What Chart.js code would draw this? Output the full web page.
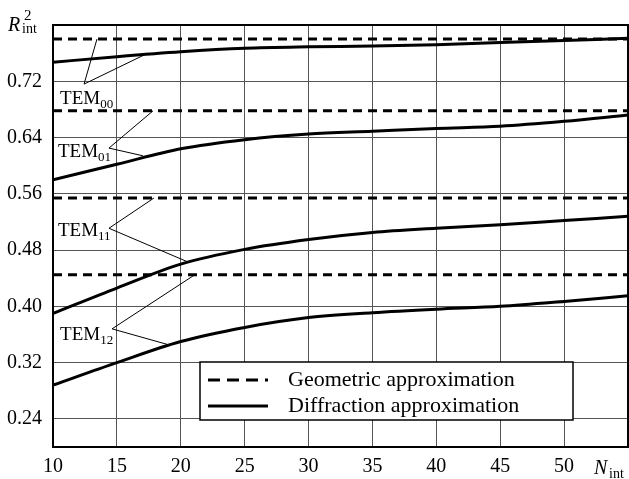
<!DOCTYPE html>
<html>
<head>
<meta charset="utf-8">
<script src="https://cdn.jsdelivr.net/npm/chart.js@4.4.0/dist/chart.umd.min.js"></script>
<style>
  html, body { margin: 0; padding: 0; background: #fff; }
  #wrap { width: 629px; height: 479px; }
</style>
</head>
<body>
<div id="wrap"><canvas id="chart"></canvas></div>
<script>
// x values (number of iterations) and diffraction curves
const nInt = [10, 15, 20, 25, 30, 35, 40, 45, 50, 55];
const diffTEM00 = [0.747, 0.755, 0.762, 0.767, 0.769, 0.770, 0.772, 0.775, 0.778, 0.781];
const diffTEM01 = [0.580, 0.602, 0.624, 0.637, 0.645, 0.649, 0.653, 0.656, 0.663, 0.672];
const diffTEM11 = [0.390, 0.426, 0.460, 0.481, 0.495, 0.505, 0.511, 0.516, 0.522, 0.528];
const diffTEM12 = [0.288, 0.320, 0.350, 0.370, 0.384, 0.391, 0.396, 0.400, 0.407, 0.415];

// geometric approximation (flat levels)
const nGeo = [10, 55];
const geoTEM00 = [0.780, 0.780];
const geoTEM01 = [0.678, 0.678];
const geoTEM11 = [0.554, 0.554];
const geoTEM12 = [0.445, 0.445];

// tick labels
const xTicks = [10, 15, 20, 25, 30, 35, 40, 45, 50, 55];
const yTicks = [0.24, 0.32, 0.40, 0.48, 0.56, 0.64, 0.72, 0.80];

// mode labels and leader lines (data coords)
const modeSubs = ['00', '01', '11', '12'];
const labelN = [10.55, 10.39, 10.39, 10.55];
const labelR = [0.688, 0.612, 0.500, 0.352];
const vertexN = [12.43, 14.38, 14.38, 14.62];
const vertexR = [0.716, 0.625, 0.511, 0.368];
const geoHitN = [13.44, 17.83, 17.90, 21.11];
const geoHitR = [0.780, 0.678, 0.554, 0.445];
const diffHitN = [17.43, 17.04, 20.57, 18.92];
const diffHitR = [0.760, 0.614, 0.463, 0.346];

const legendText = ['Geometric approximation', 'Diffraction approximation'];

const SERIF = "'Liberation Serif', 'Times New Roman', serif";

function pts(xs, ys) {
  return xs.map((x, i) => ({ x: x, y: ys[i] }));
}

function geoSet(vals) {
  return {
    data: pts(nGeo, vals),
    borderColor: '#000',
    borderWidth: 3,
    borderDash: [9, 6],
    pointRadius: 0,
    fill: false
  };
}
function diffSet(vals) {
  return {
    data: pts(nInt, vals),
    borderColor: '#000',
    borderWidth: 3,
    pointRadius: 0,
    cubicInterpolationMode: 'monotone',
    fill: false
  };
}

// frame, labels, leaders, legend box, axis titles
const extras = {
  id: 'extras',
  afterDatasetsDraw(chart) {
    const ctx = chart.ctx;
    const xs = chart.scales.x, ys = chart.scales.y;
    const a = chart.chartArea;
    ctx.save();

    // frame
    ctx.strokeStyle = '#000';
    ctx.lineWidth = 2;
    ctx.strokeRect(a.left, a.top, a.right - a.left, a.bottom - a.top);

    // leader lines
    ctx.lineWidth = 1;
    for (let i = 0; i < modeSubs.length; i++) {
      const vx = xs.getPixelForValue(vertexN[i]), vy = ys.getPixelForValue(vertexR[i]);
      ctx.beginPath();
      ctx.moveTo(xs.getPixelForValue(geoHitN[i]), ys.getPixelForValue(geoHitR[i]));
      ctx.lineTo(vx, vy);
      ctx.lineTo(xs.getPixelForValue(diffHitN[i]), ys.getPixelForValue(diffHitR[i]));
      ctx.stroke();
    }

    // TEM labels
    ctx.fillStyle = '#000';
    ctx.textBaseline = 'alphabetic';
    ctx.textAlign = 'left';
    for (let i = 0; i < modeSubs.length; i++) {
      const lx = xs.getPixelForValue(labelN[i]), ly = ys.getPixelForValue(labelR[i]);
      ctx.font = '19px ' + SERIF;
      ctx.fillText('TEM', lx, ly);
      const w = ctx.measureText('TEM').width;
      ctx.font = '13px ' + SERIF;
      ctx.fillText(modeSubs[i], lx + w, ly + 4);
    }

    // legend box
    const bx = a.left + 147, by = a.top + 337, bw = 373, bh = 58;
    ctx.fillStyle = '#fff';
    ctx.fillRect(bx, by, bw, bh);
    ctx.strokeStyle = '#000';
    ctx.lineWidth = 1.5;
    ctx.strokeRect(bx, by, bw, bh);
    ctx.lineWidth = 3;
    const rows = [by + 18, by + 44];
    rows.forEach((ry, i) => {
      ctx.beginPath();
      ctx.setLineDash(i === 0 ? [12, 7] : []);
      ctx.moveTo(bx + 8, ry);
      ctx.lineTo(bx + 68, ry);
      ctx.stroke();
    });
    ctx.setLineDash([]);
    ctx.fillStyle = '#000';
    ctx.font = '22px ' + SERIF;
    ctx.textBaseline = 'middle';
    rows.forEach((ry, i) => ctx.fillText(legendText[i], bx + 88, ry));

    // axis titles
    ctx.textBaseline = 'alphabetic';
    ctx.font = 'italic 20px ' + SERIF;
    ctx.fillText('R', 8, 31);
    ctx.font = '15px ' + SERIF;
    ctx.fillText('2', 24, 20);
    ctx.font = '14px ' + SERIF;
    ctx.fillText('int', 22, 33);
    ctx.font = 'italic 20px ' + SERIF;
    ctx.fillText('N', 594, 474);
    ctx.font = '14px ' + SERIF;
    ctx.fillText('int', 609, 478);

    ctx.restore();
  }
};

new Chart(document.getElementById('chart'), {
  type: 'line',
  data: {
    datasets: [
      geoSet(geoTEM00), geoSet(geoTEM01), geoSet(geoTEM11), geoSet(geoTEM12),
      diffSet(diffTEM00), diffSet(diffTEM01), diffSet(diffTEM11), diffSet(diffTEM12)
    ]
  },
  options: {
    responsive: true,
    maintainAspectRatio: false,
    animation: false,
    layout: { padding: { top: 25, right: 1, left: 0, bottom: 0 } },
    plugins: {
      legend: { display: false },
      tooltip: { enabled: false }
    },
    scales: {
      x: {
        type: 'linear',
        min: 10,
        max: 55,
        afterBuildTicks: s => { s.ticks = xTicks.map(v => ({ value: v })); },
        afterFit: s => { s.height = 32; s.paddingLeft = 0; s.paddingRight = 0; },
        grid: { color: '#555', lineWidth: 1, drawTicks: false },
        border: { color: '#000', width: 2 },
        ticks: {
          color: '#000',
          padding: 8,
          maxRotation: 0,
          font: { family: SERIF, size: 20 },
          callback: v => (v === 55 ? '' : String(v))
        }
      },
      y: {
        type: 'linear',
        min: 0.2,
        max: 0.8,
        afterBuildTicks: s => { s.ticks = yTicks.map(v => ({ value: v })); },
        afterFit: s => { s.width = 53; s.paddingTop = 0; s.paddingBottom = 0; },
        grid: { color: '#555', lineWidth: 1, drawTicks: false },
        border: { color: '#000', width: 2 },
        ticks: {
          color: '#000',
          padding: 11,
          font: { family: SERIF, size: 20 },
          callback: v => (v === 0.8 ? '' : v.toFixed(2))
        }
      }
    }
  },
  plugins: [extras]
});
</script>
</body>
</html>
